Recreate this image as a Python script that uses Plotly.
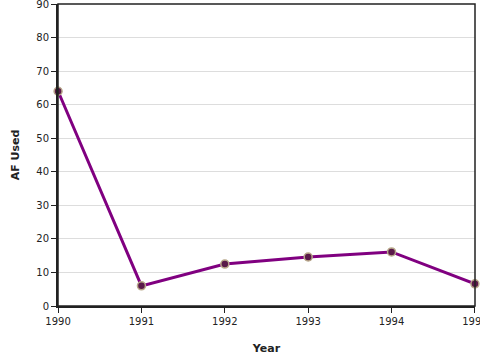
import plotly.graph_objects as go

years = [1990, 1991, 1992, 1993, 1994, 1995]
af_used = [64.0, 6.0, 12.5, 14.6, 16.1, 6.6]
y_ticks = [0, 10, 20, 30, 40, 50, 60, 70, 80, 90]

fig = go.Figure()
fig.add_trace(go.Scatter(
    x=years, y=af_used, mode="lines+markers",
    line=dict(color="#800080", width=3),
    marker=dict(size=8, color="#5a1a4a", line=dict(color="#b8a88a", width=1.5)),
    cliponaxis=False,
))
fig.add_shape(type="rect", xref="paper", yref="paper", x0=0, y0=0, x1=1, y1=1,
              line=dict(color="#222", width=1.5), layer="above")
fig.update_layout(
    width=480, height=360,
    margin=dict(l=58, r=5, t=4, b=54, autoexpand=False),
    plot_bgcolor="white", paper_bgcolor="white",
    showlegend=False,
    font=dict(family="DejaVu Sans", size=10, color="#222"),
    xaxis=dict(range=[1989.999, 1995.001], tickvals=years, showgrid=False,
               showline=True, linecolor="#222", linewidth=2,
               ticks="outside", ticklen=5, tickcolor="#222",
               ticklabeloverflow="allow",
               title=dict(text="<b>Year</b>", font=dict(size=11), standoff=18),
               zeroline=False, automargin=False),
    yaxis=dict(range=[-0.001, 90.001], tickvals=y_ticks, showgrid=True, gridcolor="#dddddd",
               showline=True, linecolor="#222", linewidth=2,
               ticks="outside", ticklen=5, tickcolor="#222",
               ticklabeloverflow="allow",
               title=dict(text="<b>AF Used</b>", font=dict(size=11), standoff=14),
               zeroline=False, automargin=False),
)
fig.write_html("out.html", config={"displayModeBar": False},
               post_script="document.body.style.margin='0';")
